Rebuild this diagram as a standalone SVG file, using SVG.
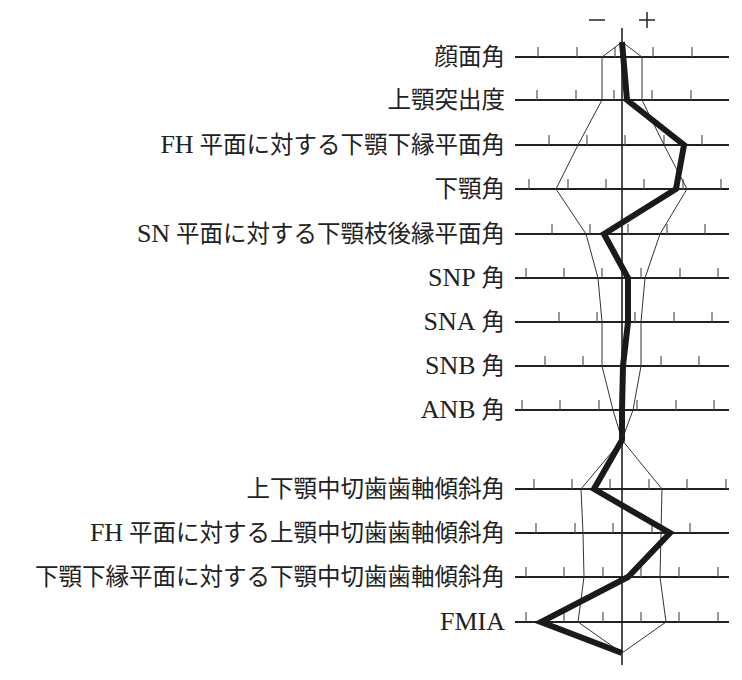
<svg xmlns="http://www.w3.org/2000/svg" width="742" height="680" viewBox="0 0 742 680">
<style>
.lb{font-family:"Liberation Serif","Noto Sans CJK JP",serif;font-size:23.5px;fill:#222;text-anchor:end}
.la{font-size:26px}
.row{stroke:#222;stroke-width:2}
.tk{stroke:#555;stroke-width:1.2}
.thin{fill:none;stroke:#333;stroke-width:1}
</style>
<rect width="742" height="680" fill="#fff"/>
<g id="labels">
<text class="lb" x="505" y="65">顔面角</text>
<text class="lb" x="505" y="108">上顎突出度</text>
<text class="lb" x="505" y="153"><tspan class="la">FH</tspan> 平面に対する下顎下縁平面角</text>
<text class="lb" x="505" y="197">下顎角</text>
<text class="lb" x="505" y="242"><tspan class="la">SN</tspan> 平面に対する下顎枝後縁平面角</text>
<text class="lb" x="505" y="286"><tspan class="la">SNP</tspan> 角</text>
<text class="lb" x="505" y="330"><tspan class="la">SNA</tspan> 角</text>
<text class="lb" x="505" y="374"><tspan class="la">SNB</tspan> 角</text>
<text class="lb" x="505" y="418"><tspan class="la">ANB</tspan> 角</text>
<text class="lb" x="505" y="497">上下顎中切歯歯軸傾斜角</text>
<text class="lb" x="505" y="541"><tspan class="la">FH</tspan> 平面に対する上顎中切歯歯軸傾斜角</text>
<text class="lb" x="505" y="585">下顎下縁平面に対する下顎中切歯歯軸傾斜角</text>
<text class="lb la" x="505" y="630">FMIA</text>
</g>
<g id="signs" stroke="#222" stroke-width="1.5">
<line x1="589" y1="20" x2="605" y2="20"/>
<line x1="639" y1="20" x2="655" y2="20"/><line x1="647" y1="12" x2="647" y2="28"/>
</g>
<g id="axes">
<line x1="622" y1="28" x2="622" y2="665" stroke="#222" stroke-width="1.6"/>
<g class="row">
<line x1="515" y1="57" x2="729" y2="57"/><line x1="515" y1="100" x2="729" y2="100"/>
<line x1="515" y1="145" x2="729" y2="145"/><line x1="515" y1="189" x2="729" y2="189"/>
<line x1="515" y1="234" x2="729" y2="234"/><line x1="515" y1="278" x2="729" y2="278"/>
<line x1="515" y1="322" x2="729" y2="322"/><line x1="515" y1="366" x2="729" y2="366"/>
<line x1="515" y1="410" x2="729" y2="410"/><line x1="515" y1="489" x2="729" y2="489"/>
<line x1="515" y1="533" x2="729" y2="533"/><line x1="515" y1="577" x2="729" y2="577"/>
<line x1="515" y1="622" x2="729" y2="622"/>
</g>
<path class="tk" d="M538 47v10M577 47v10M615 47v10M653 47v10M692 47v10
M537 90v10M576 90v10M614 90v10M652 90v10M691 90v10
M549 135v10M587 135v10M625 135v10M664 135v10M702 135v10
M529 179v10M568 179v10M606 179v10M644 179v10M683 179v10M721 179v10
M552 224v10M590 224v10M628 224v10M667 224v10M705 224v10
M526 268v10M564 268v10M602 268v10M641 268v10M680 268v10M718 268v10
M559 312v10M597 312v10M635 312v10M674 312v10M712 312v10
M545 356v10M583 356v10M661 356v10M699 356v10
M522 400v10M560 400v10M599 400v10M637 400v10M676 400v10M714 400v10
M534 479v10M572 479v10M610 479v10M649 479v10M687 479v10M726 479v10
M536 523v10M575 523v10M613 523v10M652 523v10M690 523v10
M526 567v10M564 567v10M603 567v10M641 567v10M679 567v10M718 567v10
M526 612v10M564 612v10M603 612v10M641 612v10M679 612v10M718 612v10"/>
</g>
<g id="connectors">
<polyline class="thin" points="622,42 602,57 602,100 578,145 556,189 586,234 598,278 602,322 602,366 613,410 622,440 581,489 583,533 584,577 578,622 622,653"/>
<polyline class="thin" points="622,42 642,57 642,100 664,145 687,189 660,234 645,278 641,322 641,366 633,410 622,440 662,489 661,533 660,577 666,622 622,653"/>
<polyline fill="none" stroke="#1a1a1a" stroke-width="6" stroke-linejoin="miter" points="622,42 627,100 684,145 676,189 604,234 628,278 628,322 623,366 622,410 622,440 594,489 670,533 628,577 541,622 622,653"/>
</g>
</svg>
